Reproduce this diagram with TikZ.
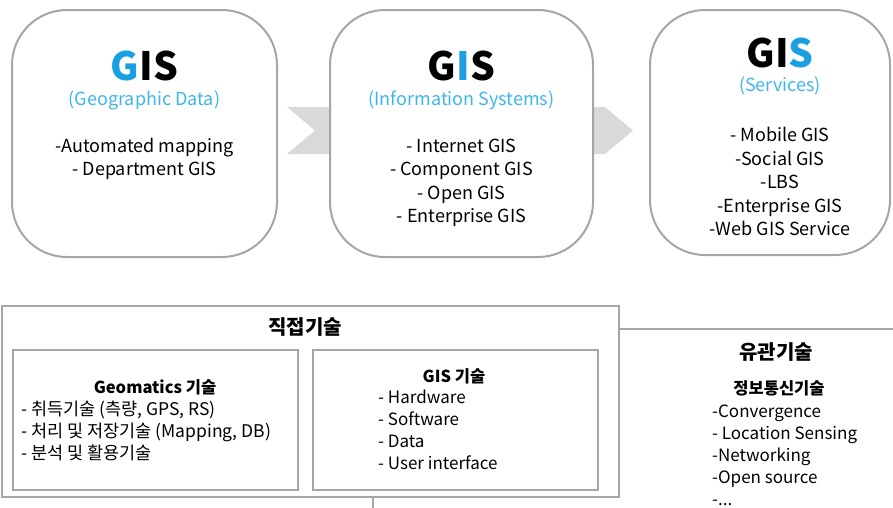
\documentclass[tikz,border=0pt]{standalone}
\usepackage{fontspec}
\setmainfont{Noto Sans CJK KR}
\usepackage{xcolor}
\usepackage{tikz}
\usetikzlibrary{positioning,backgrounds}
\definecolor{lineg}{HTML}{a6a6a6}
\definecolor{flowg}{HTML}{d9d9d9}
\definecolor{gisblue}{HTML}{1a9fe0}
\definecolor{subblue}{HTML}{3db6f0}
\tikzset{
  stagebox/.style={draw=lineg, fill=white, line width=2pt,
                   rounded corners=55pt, inner sep=0pt},
  techbox/.style={draw=lineg, fill=white, line width=2pt, inner sep=0pt},
  bigtitle/.style={font=\fontsize{39}{40}\selectfont\bfseries, inner sep=0pt},
  subtitle/.style={font=\fontsize{18}{20}\selectfont, text=subblue, inner sep=0pt},
  itemlist/.style={font=\fontsize{18}{23.5}\selectfont, align=center, inner sep=0pt},
  head/.style={font=\fontsize{20}{24}\selectfont\bfseries, inner sep=0pt},
  subhead/.style={font=\fontsize{16.5}{20}\selectfont\bfseries, inner sep=0pt},
  techlist/.style={font=\fontsize{17}{22}\selectfont, align=left, inner sep=0pt,
                   anchor=west}
}

\begin{document}
\begin{tikzpicture}[x=1pt, y=-1pt]
  \useasboundingbox (0,0) rectangle (893,507);

  % --- flow arrow behind the three stages ---
  \fill[flowg] (287,107) -- (605,107) -- (633,130.5) -- (605,154)
               -- (287,154) -- (315,130.5) -- cycle;

  % --- stage 1: Geographic Data ---
  \node[stagebox, minimum width=265pt, minimum height=247pt] (data) at (144.5,133.5) {};
  \node[bigtitle] (data-t) at (144.5,66) {\textcolor{gisblue}{G}IS};
  \node[subtitle] (data-s) at (144.5,100) {(Geographic Data)};
  \node[itemlist] (data-l) at (144.5,159) {-Automated mapping\\- Department GIS};

  % --- stage 2: Information Systems ---
  \node[stagebox, minimum width=263pt, minimum height=247pt] (info) at (461.5,133.5) {};
  \node[bigtitle] (info-t) at (461.5,66) {G\textcolor{gisblue}{I}S};
  \node[subtitle] (info-s) at (461.5,100) {(Information Systems)};
  \node[itemlist] (info-l) at (461.5,183) {- Internet GIS\\- Component GIS\\- Open GIS\\- Enterprise GIS};

  % --- stage 3: Services ---
  \node[stagebox, minimum width=240pt, minimum height=245pt] (serv) at (770,132.5) {};
  \node[bigtitle] (serv-t) at (780,53) {GI\textcolor{gisblue}{S}};
  \node[subtitle] (serv-s) at (780,86) {(Services)};
  \node[itemlist] (serv-l) at (780,181.5) {- Mobile GIS\\-Social GIS\\-LBS\\-Enterprise GIS\\-Web GIS Service};

  % --- related technology (behind) ---
  \node[techbox, minimum width=540pt, minimum height=200pt, anchor=north west] (rel) at (372,328) {};
  \node[head] (rel-t) at (776,352) {유관기술};
  \node[subhead] (rel-s) at (779,388) {정보통신기술};
  \node[techlist] (rel-l) at (712,455.5) {-Convergence\\- Location Sensing\\-Networking\\-Open source\\-...};

  % --- direct technology ---
  \node[techbox, minimum width=617pt, minimum height=191pt, anchor=north west] (direct) at (1,305) {};
  \node[head] (direct-t) at (305,327) {직접기술};

  \node[techbox, minimum width=285pt, minimum height=140pt, anchor=north west] (geo) at (12,349) {};
  \node[subhead] (geo-t) at (155,387) {Geomatics 기술};
  \node[techlist, font=\fontsize{17.5}{22}\selectfont] (geo-l) at (21,430.5) {- 취득기술 (측량, GPS, RS)\\- 처리 및 저장기술 (Mapping, DB)\\- 분석 및 활용기술};

  \node[techbox, minimum width=285pt, minimum height=140pt, anchor=north west] (gist) at (312,349) {};
  \node[subhead] (gist-t) at (454,376) {GIS 기술};
  \node[techlist] (gist-l) at (378,430) {- Hardware\\- Software\\- Data\\- User interface};

\end{tikzpicture}
\end{document}
